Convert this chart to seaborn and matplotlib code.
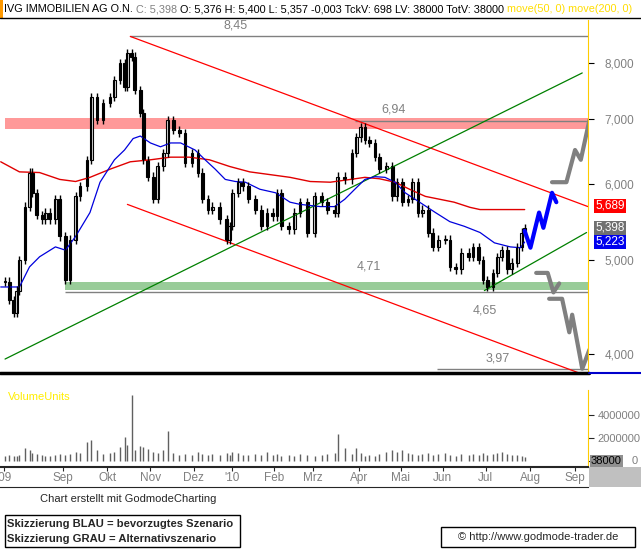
import matplotlib
matplotlib.use("Agg")
import matplotlib.pyplot as plt
import seaborn as sns
from matplotlib.patches import Rectangle

sns.set_style("white")
plt.rcParams["font.family"] = ["Liberation Sans", "DejaVu Sans"]

W, H = 641, 552

# Kursverlauf (Tage seit 01.08.2009, Schlusskurse)
tage = [0, 3, 6, 8, 10, 14, 17, 19, 22, 26, 28, 31, 35, 38, 42, 45, 49, 52, 57, 60,
        64, 68, 73, 76, 80, 83, 85, 88, 90, 94, 96, 99, 103, 106, 110, 113, 117, 121, 125, 130,
        134, 137, 141, 144, 149, 154, 156, 158, 162, 165, 169, 174, 178, 182, 186, 189, 192, 197, 201, 205,
        210, 215, 220, 224, 229, 231, 236, 241, 244, 247, 250, 253, 257, 260, 265, 269, 272, 276, 280, 283,
        287, 290, 294, 297, 301, 306, 309, 313, 317, 322, 325, 329, 332, 335, 339, 342, 345, 349, 352, 356,
        359, 361]
schluss = [4.75, 4.55, 4.41, 4.65, 5.00, 5.68, 6.16, 5.87, 5.57, 5.51, 5.60, 5.51, 5.78, 5.29, 4.77,
           5.25, 5.82, 5.96, 6.35, 7.38, 6.98, 7.27, 7.38, 7.68, 8.00, 7.56, 8.19, 8.12, 7.50, 7.10,
           6.35, 6.10, 5.78, 6.25, 6.45, 6.98, 6.82, 6.77, 6.30, 6.45, 6.16, 5.78, 5.64, 5.68, 5.51,
           5.25, 5.42, 5.87, 6.02, 5.96, 5.78, 5.64, 5.42, 5.60, 5.55, 5.87, 5.42, 5.38, 5.60, 5.74,
           5.34, 5.82, 5.74, 5.64, 5.60, 6.10, 6.06, 6.45, 6.70, 6.87, 6.66, 6.61, 6.39, 6.21, 6.25,
           5.82, 6.02, 5.74, 5.78, 6.02, 5.60, 5.64, 5.34, 5.16, 5.25, 5.25, 4.92, 4.89, 5.09, 5.04,
           5.16, 5.00, 4.77, 4.69, 4.85, 5.04, 5.12, 4.89, 4.97, 5.16, 5.34, 5.40]
volumen = [0.4, 0.5, 0.4, 0.45, 0.5, 1.1, 0.9, 0.7, 0.6, 0.5, 0.45, 0.4, 0.5, 0.6, 0.5, 0.6, 0.8, 0.7, 1.6, 1.8,
           0.9, 0.6, 0.7, 0.8, 1.2, 2.1, 1.4, 5.8, 0.9, 1.3, 1.2, 1.0, 0.8, 0.7, 0.9, 2.6, 0.7, 0.5, 0.6, 0.5,
           0.8, 0.6, 0.5, 0.6, 0.5, 0.7, 0.5, 0.8, 0.7, 0.5, 0.5, 0.6, 0.5, 0.8, 0.5, 0.6, 0.4, 0.5, 0.4, 0.6,
           0.5, 0.4, 0.5, 0.6, 0.7, 2.3, 1.1, 0.6, 1.1, 0.7, 0.4, 0.5, 0.4, 0.6, 0.8, 0.9, 0.8, 0.9, 0.7, 0.6,
           0.5, 0.6, 0.7, 0.5, 0.6, 0.7, 0.5, 0.4, 0.6, 0.5, 0.6, 0.5, 0.7, 0.5, 0.6, 0.7, 0.8, 0.6, 0.5, 0.5,
           0.4, 0.3]

# Gleitende Durchschnitte
ma50_tage = [-3, 10, 17, 24, 35, 42, 49, 59, 66, 76, 83, 89, 94, 101, 108, 115, 122, 132, 139, 146, 153, 160,
             167, 177, 188, 198, 205, 219, 229, 236, 243, 250, 257, 264, 271, 278, 288, 299, 309, 319, 330,
             340, 351, 358, 361]
ma50 = [4.69, 4.69, 4.92, 5.04, 5.16, 5.12, 5.29, 5.60, 6.02, 6.35, 6.50, 6.68, 6.72, 6.61, 6.55, 6.61, 6.61,
        6.50, 6.35, 6.21, 6.06, 6.03, 6.02, 5.92, 5.87, 5.74, 5.71, 5.68, 5.68, 5.78, 5.92, 6.06, 6.10, 6.09,
        6.02, 5.87, 5.74, 5.60, 5.48, 5.42, 5.34, 5.21, 5.16, 5.15, 5.22]
ma200_tage = [-3, 10, 24, 38, 49, 59, 73, 87, 101, 115, 128, 142, 156, 170, 184, 198, 205, 212, 226, 240,
              250, 260, 271, 281, 292, 302, 312, 323, 330, 361]
ma200 = [6.32, 6.17, 6.16, 6.06, 6.03, 6.09, 6.21, 6.32, 6.35, 6.39, 6.39, 6.35, 6.25, 6.17, 6.13, 6.09,
         6.06, 6.03, 6.02, 6.06, 6.09, 6.07, 6.02, 5.92, 5.82, 5.78, 5.74, 5.67, 5.64, 5.64]

# Trendlinien (Tag, Kurs)
kanal_oben = ([87, 405], [8.52, 5.68])
kanal_unten = ([85, 399], [5.71, 3.82])
trend_lang = ([0, 401], [3.95, 7.81])
trend_kurz = ([333, 404], [4.65, 5.34])

# Skizzen
blau_tage = [361, 365, 371, 374, 380, 383]
blau_kurs = [5.36, 5.15, 5.60, 5.40, 5.87, 5.74]
grau1_tage = [380, 390, 396, 400, 406]
grau1_kurs = [6.02, 6.02, 6.50, 6.35, 6.98]
grau2a_tage = [369, 377, 381, 385]
grau2a_kurs = [4.85, 4.85, 4.63, 4.73]
grau2b_tage = [378, 387, 392, 394, 401, 406]
grau2b_kurs = [4.56, 4.56, 4.21, 4.39, 3.86, 4.04]

monat_pos = [-1, 40, 71, 101, 131, 158, 187, 214, 246, 275, 304, 334, 365, 396]
monat_txt = ["'09", "Sep", "Okt", "Nov", "Dez", "'10", "Feb", "Mrz", "Apr", "Mai", "Jun", "Jul", "Aug", "Sep"]

grau = "#808080"


def rect(x0, y0, x1, y1):
    return [x0 / W, 1 - y1 / H, (x1 - x0) / W, (y1 - y0) / H]


fig = plt.figure(figsize=(W / 100, H / 100), dpi=100)
ax = fig.add_axes(rect(0, 20, 588, 372))
axv = fig.add_axes(rect(0, 390, 588, 467), sharex=ax)
axd = fig.add_axes(rect(0, 467, 588, 487), sharex=ax)

xmin, xmax = -3.5, 405
ax.set_yscale("log")
ax.set_ylim(3.83, 8.86)
ax.set_xlim(xmin, xmax)

# Zonen
ax.axhspan(6.83, 7.01, xmin=(0 - xmin) / (xmax - xmin), color="#ff9999", lw=0)
ax.axhspan(4.66, 4.75, xmin=(42 - xmin) / (xmax - xmin), color="#99cc99", lw=0)
ax.hlines(8.52, 87, xmax, color=grau, lw=1)
ax.hlines(6.96, 243, xmax, color=grau, lw=1)
ax.hlines(4.63, 42, xmax, color=grau, lw=1)
ax.hlines(3.86, 300, xmax, color=grau, lw=1)
ax.text(160, 8.62, "8,45", color=grau, fontsize=9, ha="center", va="bottom")
ax.text(270, 7.05, "6,94", color=grau, fontsize=9, ha="center", va="bottom")
ax.text(253, 4.86, "4,71", color=grau, fontsize=9, ha="center", va="bottom")
ax.text(333, 4.50, "4,65", color=grau, fontsize=9, ha="center", va="top")
ax.text(342, 3.90, "3,97", color=grau, fontsize=9, ha="center", va="bottom")

for xs, ys, c in [(kanal_oben[0], kanal_oben[1], "red"), (kanal_unten[0], kanal_unten[1], "red"),
                  (trend_lang[0], trend_lang[1], "green"), (trend_kurz[0], trend_kurz[1], "green")]:
    ax.plot(xs, ys, color=c, lw=0.9)

sns.lineplot(x=ma200_tage, y=ma200, ax=ax, color="#e00000", lw=1)
sns.lineplot(x=ma50_tage, y=ma50, ax=ax, color="#0000dd", lw=0.9)

# Kerzen
eroeffnung = [schluss[0]] + schluss[:-1]
for t, o, c in zip(tage, eroeffnung, schluss):
    lo, hi = min(o, c), max(o, c)
    ax.vlines(t, lo * 0.99, hi * 1.01, color="black", lw=1)
    ax.add_patch(Rectangle((t - 0.9, lo), 1.8, max(hi - lo, 0.01),
                           facecolor="white" if c >= o else "black", edgecolor="black", lw=0.8))

sns.lineplot(x=blau_tage, y=blau_kurs, ax=ax, color="#0000ff", lw=3)
sns.lineplot(x=grau1_tage, y=grau1_kurs, ax=ax, color=grau, lw=3)
sns.lineplot(x=grau2a_tage, y=grau2a_kurs, ax=ax, color=grau, lw=3)
sns.lineplot(x=grau2b_tage, y=grau2b_kurs, ax=ax, color=grau, lw=3)

ax.set_yticks([4, 5, 6, 7, 8])
ax.set_yticks([], minor=True)
ax.yaxis.tick_right()
ax.set_yticklabels(["4,000", "5,000", "6,000", "7,000", "8,000"], color=grau, fontsize=8.5)
ax.tick_params(axis="y", length=4, pad=8, color="black")
ax.tick_params(axis="x", bottom=False, labelbottom=False)
for s in ["left", "top", "bottom"]:
    ax.spines[s].set_visible(False)
ax.spines["right"].set_color("#ffcc00")

# Kursboxen rechts
for wert, txt, fc in [(5.689, "5,689", "red"), (5.398, "5,398", "#707070"), (5.223, "5,223", "#0000ee")]:
    ax.annotate(txt, xy=(1.012, wert), xycoords=("axes fraction", "data"), color="white", fontsize=8.5,
                va="center", ha="left", annotation_clip=False,
                bbox=dict(boxstyle="square,pad=0.1", fc=fc, ec="none"))

# Volumen
axv.vlines(tage, 0, volumen, color="#606060", lw=1)
axv.set_ylim(-0.55, 6.2)
axv.yaxis.tick_right()
axv.set_yticks([0, 2, 4])
axv.set_yticklabels(["", "2000000", "4000000"], color=grau, fontsize=8)
axv.tick_params(axis="y", length=4, pad=3)
axv.tick_params(axis="x", bottom=False, labelbottom=False)
for s in ["left", "top", "bottom"]:
    axv.spines[s].set_visible(False)
axv.spines["right"].set_color("#ffcc00")
axv.text(2, 6.0, "VolumeUnits", color="#ffee00", fontsize=8, va="top")
axv.annotate("38000", xy=(1.005, 0), xycoords=("axes fraction", "data"), fontsize=8, color="black",
             va="center", ha="left", annotation_clip=False,
             bbox=dict(boxstyle="square,pad=0.1", fc="#909090", ec="none"))
axv.annotate("0", xy=(1.075, 0), xycoords=("axes fraction", "data"), fontsize=8, color=grau,
             va="center", ha="left", annotation_clip=False)

# Datumsleiste
axd.set_ylim(0, 1)
axd.set_yticks([])
axd.set_xticks(monat_pos)
axd.set_xticklabels([])
axd.tick_params(axis="x", top=True, bottom=False, length=3, direction="in")
for p, t in zip(monat_pos, monat_txt):
    axd.text(p, 0.45, t, color=grau, fontsize=8.5, ha="center", va="center", clip_on=True)
for s in ["left", "right"]:
    axd.spines[s].set_visible(False)
axd.spines["top"].set_linewidth(1.5)

# Rahmen und Linien
fig.add_artist(plt.Line2D([0, 589 / W], [1 - 373 / H] * 2, color="black", lw=2.5))
fig.add_artist(plt.Line2D([589 / W, 1], [1 - 373 / H] * 2, color="#0000cc", lw=1.5))
fig.add_artist(plt.Line2D([0, 1], [1 - 18 / H] * 2, color="black", lw=1))
fig.add_artist(Rectangle((589 / W, 1 - 487 / H), 52 / W, 20 / H, color="#c0c0c0", lw=0))
fig.add_artist(Rectangle((0, 1 - 18 / H), 3 / W, 18 / H, color="#ff9900", lw=0))

# Kopfzeile
teile = [("IVG IMMOBILIEN AG O.N. ", "black"), ("C: 5,398 ", grau),
         ("O: 5,376 H: 5,400 L: 5,357 -0,003 TckV: 698 LV: 38000 TotV: 38000 ", "black"),
         ("move(50, 0) move(200, 0)", "#ffdd00")]
x_pos = 4 / W
for txt, c in teile:
    t = fig.text(x_pos, 1 - 9 / H, txt, fontsize=7.8, va="center", color=c)
    fig.canvas.draw()
    x_pos += t.get_window_extent().width / W

fig.text(40 / W, 1 - 499 / H, "Chart erstellt mit GodmodeCharting", fontsize=8, va="center")
fig.add_artist(Rectangle((5 / W, 1 - 547 / H), 235 / W, 32 / H, fill=False, ec="black", lw=1))
fig.text(7 / W, 1 - 524 / H, "Skizzierung BLAU = bevorzugtes Szenario", fontsize=8.1, weight="bold", va="center")
fig.text(7 / W, 1 - 539 / H, "Skizzierung GRAU = Alternativszenario", fontsize=8.1, weight="bold", va="center")
fig.add_artist(Rectangle((441 / W, 1 - 547 / H), 194 / W, 20 / H, fill=False, ec="black", lw=1))
fig.text(538 / W, 1 - 537 / H, "© http://www.godmode-trader.de", fontsize=8, ha="center", va="center")

fig.savefig("out.png", dpi=100)
